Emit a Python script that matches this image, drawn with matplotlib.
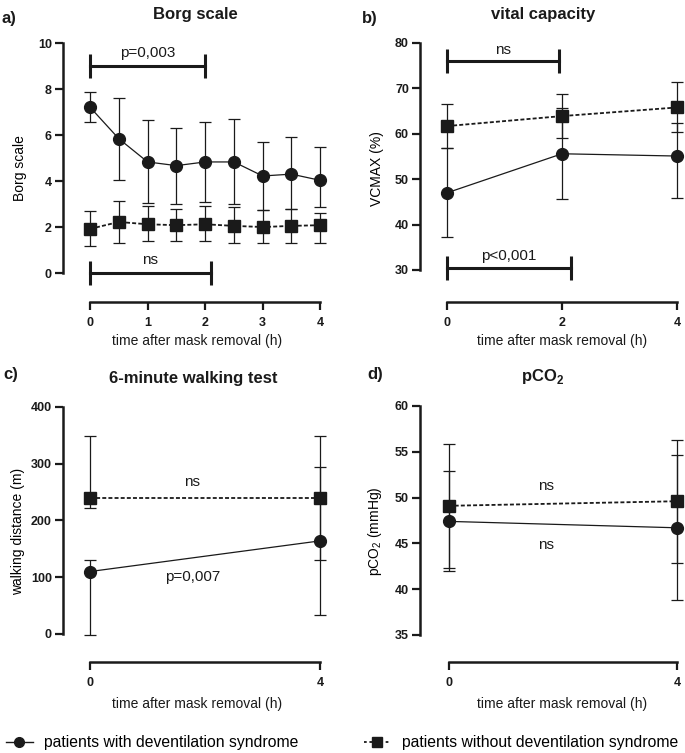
import matplotlib
matplotlib.use("Agg")
import matplotlib.pyplot as plt
from matplotlib.lines import Line2D
import numpy as np

plt.rcParams['font.family'] = ['Liberation Sans', 'DejaVu Sans']
plt.rcParams['mathtext.fontset'] = 'custom'
plt.rcParams['mathtext.rm'] = 'Liberation Sans'
plt.rcParams['mathtext.bf'] = 'Liberation Sans:bold'

# --- data
# a) Borg scale
borg_t = [0, 0.5, 1, 1.5, 2, 2.5, 3, 3.5, 4]
borg_with = [7.21, 5.84, 4.83, 4.67, 4.83, 4.83, 4.22, 4.30, 4.03]
borg_with_lo = [6.58, 4.04, 3.05, 3.02, 3.10, 3.02, 2.73, 2.80, 2.85]
borg_with_hi = [7.85, 7.63, 6.66, 6.32, 6.58, 6.69, 5.71, 5.93, 5.49]
borg_without = [1.92, 2.22, 2.12, 2.08, 2.12, 2.05, 2.00, 2.05, 2.08]
borg_without_lo = [1.18, 1.32, 1.38, 1.38, 1.40, 1.32, 1.31, 1.32, 1.32]
borg_without_hi = [2.69, 3.14, 2.91, 2.78, 2.91, 2.85, 2.76, 2.80, 2.59]

# b) vital capacity
vc_t = [0, 2, 4]
vc_with = [47.0, 55.6, 55.1]
vc_with_lo = [37.3, 45.6, 45.8]
vc_with_hi = [56.9, 65.6, 62.4]
vc_without = [61.7, 63.9, 65.8]
vc_without_lo = [56.9, 59.0, 60.3]
vc_without_hi = [66.5, 68.7, 71.3]

# c) 6-minute walking test
walk_t = [0, 4]
walk_with = [110, 164]
walk_with_lo = [-1, 33]
walk_with_hi = [130, 294]
walk_without = [239, 239]
walk_without_lo = [221, 130]
walk_without_hi = [349, 349]

# d) pCO2
pco2_t = [0, 4]
pco2_with = [47.4, 46.7]
pco2_with_lo = [42.0, 38.8]
pco2_with_hi = [52.9, 54.6]
pco2_without = [49.1, 49.6]
pco2_without_lo = [42.3, 42.9]
pco2_without_hi = [55.9, 56.3]

W, H = 685, 753
fig = plt.figure(figsize=(W / 100, H / 100), dpi=100)
INK = '#1a1a1a'
ANN = 11  # annotation font size


def px_axes(left, top, right, bottom):
    return fig.add_axes([left / W, 1 - bottom / H, (right - left) / W, (bottom - top) / H])


def style(ax, xticks, ybounds, yticks):
    for s in ['top', 'right']:
        ax.spines[s].set_visible(False)
    for s in ['left', 'bottom']:
        ax.spines[s].set_linewidth(1.8)
        ax.spines[s].set_color(INK)
    ax.spines['left'].set_bounds(*ybounds)
    ax.spines['bottom'].set_bounds(xticks[0], xticks[-1])
    ax.set_xticks(xticks)
    ax.set_yticks(yticks)
    ax.tick_params(direction='out', length=6, width=1.6, color=INK, labelsize=9, pad=2)
    ax.tick_params(axis='x', pad=5)
    for lab in ax.get_xticklabels() + ax.get_yticklabels():
        lab.set_fontweight('bold')
        lab.set_color(INK)


def draw_series(ax, t, m, lo, hi, marker, ls, lw):
    m = np.array(m, float)
    yerr = [m - np.array(lo, float), np.array(hi, float) - m]
    ax.errorbar(t, m, yerr=yerr, fmt='none', ecolor=INK, elinewidth=0.9,
                capsize=4, capthick=0.9, zorder=2)
    ax.plot(t, m, color=INK, linestyle=ls, linewidth=lw, marker=marker,
            markersize=8.5 if marker == 'o' else 8, markerfacecolor=INK,
            markeredgecolor=INK, zorder=3, clip_on=False)


def bracket(ax, x0, x1, y):
    ax.plot([x0, x1], [y, y], color=INK, lw=2.2, marker='|', markersize=17,
            markeredgewidth=2.2, clip_on=False, zorder=4)


DASH = (0, (2.2, 1.2))

# --- a) Borg scale
ax = px_axes(63, 35, 330, 302)
draw_series(ax, borg_t, borg_with, borg_with_lo, borg_with_hi, 'o', '-', 0.9)
draw_series(ax, borg_t, borg_without, borg_without_lo, borg_without_hi, 's', DASH, 1.3)
ax.set_xlim(-0.47, 4.17)
ax.set_ylim(-1.26, 10.35)
style(ax, [0, 1, 2, 3, 4], (0, 10), [0, 2, 4, 6, 8, 10])
bracket(ax, 0, 2, 9.0)
ax.text(1.0, 9.25, 'p=0,003', ha='center', va='bottom', fontsize=ANN, color=INK)
bracket(ax, 0, 2.1, 0)
ax.text(1.05, 0.25, 'ns', ha='center', va='bottom', fontsize=ANN, color=INK)
ax.set_ylabel('Borg scale', fontsize=10, labelpad=8)

# --- b) vital capacity
ax = px_axes(420, 35, 685, 302)
draw_series(ax, vc_t, vc_with, vc_with_lo, vc_with_hi, 'o', '-', 0.9)
draw_series(ax, vc_t, vc_without, vc_without_lo, vc_without_hi, 's', DASH, 1.3)
ax.set_xlim(-0.47, 4.14)
ax.set_ylim(22.95, 81.76)
style(ax, [0, 2, 4], (30, 80), [30, 40, 50, 60, 70, 80])
bracket(ax, 0, 1.95, 76)
ax.text(0.97, 77.0, 'ns', ha='center', va='bottom', fontsize=ANN, color=INK)
bracket(ax, 0, 2.15, 30.5)
ax.text(1.07, 31.6, 'p<0,001', ha='center', va='bottom', fontsize=ANN, color=INK)
ax.set_ylabel('VCMAX (%)', fontsize=10, labelpad=8)

# --- c) 6-minute walking test
ax = px_axes(63, 400, 330, 662)
draw_series(ax, walk_t, walk_with, walk_with_lo, walk_with_hi, 'o', '-', 0.9)
draw_series(ax, walk_t, walk_without, walk_without_lo, walk_without_hi, 's', DASH, 1.3)
ax.set_xlim(-0.47, 4.17)
ax.set_ylim(-49.3, 412)
style(ax, [0, 4], (0, 400), [0, 100, 200, 300, 400])
ax.text(1.78, 267, 'ns', ha='center', va='center', fontsize=ANN, color=INK)
ax.text(1.78, 100, 'p=0,007', ha='center', va='center', fontsize=ANN, color=INK)
ax.set_ylabel('walking distance (m)', fontsize=10, labelpad=4)

# --- d) pCO2
ax = px_axes(420, 400, 685, 662)
draw_series(ax, pco2_t, pco2_with, pco2_with_lo, pco2_with_hi, 'o', '-', 0.9)
draw_series(ax, pco2_t, pco2_without, pco2_without_lo, pco2_without_hi, 's', DASH, 1.3)
ax.set_xlim(-0.5, 4.14)
ax.set_ylim(32.05, 60.65)
style(ax, [0, 4], (35, 60), [35, 40, 45, 50, 55, 60])
ax.text(1.71, 51.3, 'ns', ha='center', va='center', fontsize=ANN, color=INK)
ax.text(1.71, 44.8, 'ns', ha='center', va='center', fontsize=ANN, color=INK)
ax.set_ylabel('pCO$_2$ (mmHg)', fontsize=10, labelpad=8)

# --- titles, panel letters, x labels
for x, y, s in [(195, 15, 'Borg scale'), (543, 15, 'vital capacity'),
                (193, 378, '6-minute walking test'), (543, 377, r'pCO$_\mathbf{2}$')]:
    fig.text(x / W, 1 - y / H, s, ha='center', va='center', fontsize=12,
             fontweight='bold', color=INK)
for x, y, s in [(1, 18, 'a)'), (362, 18, 'b)'), (3, 375, 'c)'), (367, 375, 'd)')]:
    fig.text(x / W, 1 - y / H, s, ha='left', va='center', fontsize=12,
             fontweight='bold', color=INK)
for x, y in [(197, 341), (562, 341), (197, 704), (562, 704)]:
    fig.text(x / W, 1 - y / H, 'time after mask removal (h)', ha='center',
             va='center', fontsize=10, color=INK)

# --- legend (two entries, placed separately)
h_with = Line2D([], [], color=INK, lw=1.0, marker='o', markersize=7, markerfacecolor=INK)
h_without = Line2D([], [], color=INK, lw=1.3, linestyle=(0, (1.5, 1.5)), marker='s',
                   markersize=7, markerfacecolor=INK)
for h, lab, x in [(h_with, 'patients with deventilation syndrome', 6),
                  (h_without, 'patients without deventilation syndrome', 364)]:
    fig.legend([h], [lab], loc='center left', bbox_to_anchor=(x / W, 1 - 743 / H),
               frameon=False, fontsize=11.3, handlelength=1.7, handletextpad=0.75,
               borderpad=0, borderaxespad=0)

fig.savefig('out.png', dpi=100)
